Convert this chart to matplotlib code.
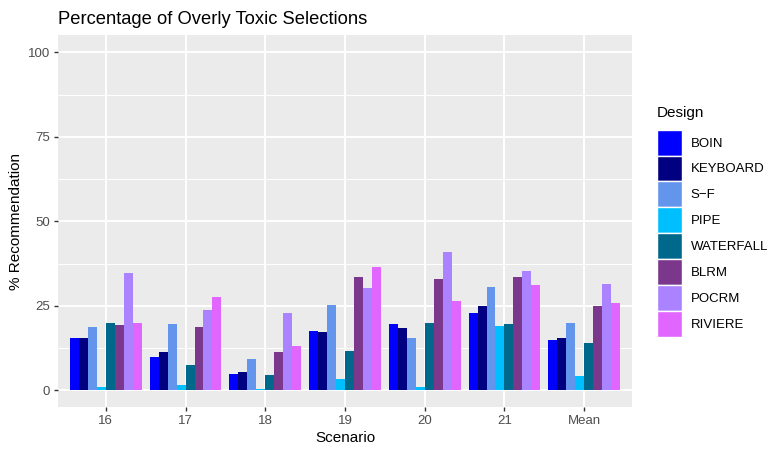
import numpy as np
import matplotlib.pyplot as plt
from matplotlib.patches import Patch
from matplotlib.ticker import MultipleLocator

plt.rcParams['font.family'] = ['Liberation Sans', 'DejaVu Sans']

scenarios = ["16", "17", "18", "19", "20", "21", "Mean"]
designs = ["BOIN", "KEYBOARD", "S\u2212F", "PIPE", "WATERFALL", "BLRM", "POCRM", "RIVIERE"]
colors = ["#0000FF", "#000080", "#6495ED", "#00BFFF", "#00688B", "#7A378B", "#AB82FF", "#E066FF"]

boin      = [15.5,  9.9,  4.9, 17.6, 19.7, 23.0, 15.0]
keyboard  = [15.5, 11.4,  5.5, 17.3, 18.5, 25.0, 15.5]
sf        = [18.8, 19.7,  9.3, 25.3, 15.5, 30.6, 20.0]
pipe      = [ 1.0,  1.6,  0.3,  3.2,  1.0, 19.1,  4.3]
waterfall = [20.0,  7.5,  4.6, 11.7, 20.0, 19.7, 14.1]
blrm      = [19.4, 18.8, 11.4, 33.6, 33.0, 33.6, 25.0]
pocrm     = [34.8, 23.8, 22.9, 30.3, 41.0, 35.4, 31.5]
riviere   = [20.0, 27.7, 13.2, 36.5, 26.5, 31.2, 25.9]
series = [boin, keyboard, sf, pipe, waterfall, blrm, pocrm, riviere]

fig = plt.figure(figsize=(7.74, 4.5), dpi=100)
ax = fig.add_axes([58/774, 1-407.2/450, (632-58)/774, (407.2-35.4)/450])
ax.set_facecolor("#EBEBEB")

x = np.arange(1, len(scenarios)+1)
bw = 0.9 / len(designs)
for i, (vals, c) in enumerate(zip(series, colors)):
    ax.bar(x - 0.45 + bw*(i+0.5), vals, width=bw, color=c, linewidth=0, zorder=3)

ax.set_xlim(0.4, 7.6)
ax.set_ylim(-5, 105)
ax.set_xticks(x)
ax.set_xticklabels(scenarios)
ax.set_yticks([0, 25, 50, 75, 100])
ax.yaxis.set_minor_locator(MultipleLocator(12.5))
ax.grid(which="major", color="white", linewidth=1.4, zorder=0)
ax.grid(which="minor", axis="y", color="white", linewidth=0.7, zorder=0)
ax.set_axisbelow(True)
for s in ax.spines.values():
    s.set_visible(False)
ax.tick_params(which="major", length=3, width=1, color="#333333", labelcolor="#4D4D4D", labelsize=9.5, pad=2.5)
ax.tick_params(which="minor", length=0)

ax.set_xlabel("Scenario", fontsize=11, labelpad=3)
ax.set_ylabel("% Recommendation", fontsize=11, labelpad=4)
fig.text(58/774, 1-24/450, "Percentage of Overly Toxic Selections", fontsize=13.2, va="baseline", ha="left")

# legend (title placed separately to get ggplot spacing)
fig.text(657/774, 1-113/450, "Design", fontsize=11, va="center", ha="left")
handles = [Patch(facecolor=c, edgecolor="white", linewidth=1) for c in colors]
leg = fig.legend(handles, designs, loc="upper left", bbox_to_anchor=(646/774, 1-119/450),
                 frameon=False, fontsize=9.5,
                 handlelength=1.9, handleheight=2.65, labelspacing=0, handletextpad=0.7,
                 borderpad=0.3)

fig.savefig("out.png", dpi=100)
